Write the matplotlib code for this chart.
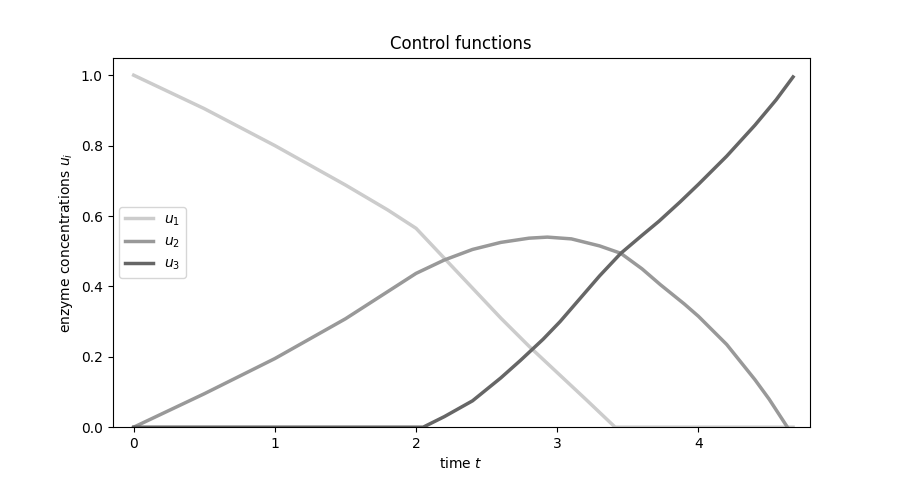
import matplotlib
matplotlib.use('Agg')
import matplotlib.pyplot as plt

# values
t_u1 = [0.0, 0.5, 1.0, 1.5, 1.8, 2.0, 2.2, 2.4, 2.6, 2.8, 3.0, 3.2, 3.41, 4.67]
u1 = [1.0, 0.905, 0.80, 0.688, 0.617, 0.565, 0.48, 0.395, 0.31, 0.23, 0.155, 0.08, 0.0, 0.0]

t_u2 = [0.0, 0.5, 1.0, 1.5, 2.0, 2.2, 2.4, 2.6, 2.8, 2.93, 3.1, 3.3, 3.45, 3.6,
        3.73, 3.9, 4.0, 4.2, 4.4, 4.5, 4.63]
u2 = [0.0, 0.095, 0.195, 0.308, 0.437, 0.475, 0.505, 0.525, 0.537, 0.54, 0.535,
      0.515, 0.494, 0.45, 0.405, 0.35, 0.315, 0.235, 0.135, 0.08, 0.0]

t_u3 = [0.0, 2.05, 2.2, 2.4, 2.6, 2.74, 2.9, 3.02, 3.16, 3.3, 3.45, 3.6, 3.72,
        3.87, 4.0, 4.2, 4.4, 4.55, 4.67]
u3 = [0.0, 0.0, 0.03, 0.075, 0.14, 0.19, 0.25, 0.30, 0.365, 0.43, 0.494, 0.545,
      0.585, 0.64, 0.69, 0.77, 0.858, 0.93, 0.995]

fig, ax = plt.subplots(figsize=(9, 4.8), dpi=100)

ax.plot(t_u1, u1, color='0.8', lw=2.5, label='$u_1$')
ax.plot(t_u2, u2, color='0.6', lw=2.5, label='$u_2$')
ax.plot(t_u3, u3, color='0.4', lw=2.5, label='$u_3$')

ax.set_xlim(-0.15, 4.79)
ax.set_ylim(0, 1.05)
ax.set_xticks([0, 1, 2, 3, 4])

ax.set_xlabel('time $t$')
ax.set_ylabel('enzyme concentrations $u_i$')
ax.set_title('Control functions')
ax.legend(loc='center left')

plt.savefig('out.png', dpi=100)
plt.close()
